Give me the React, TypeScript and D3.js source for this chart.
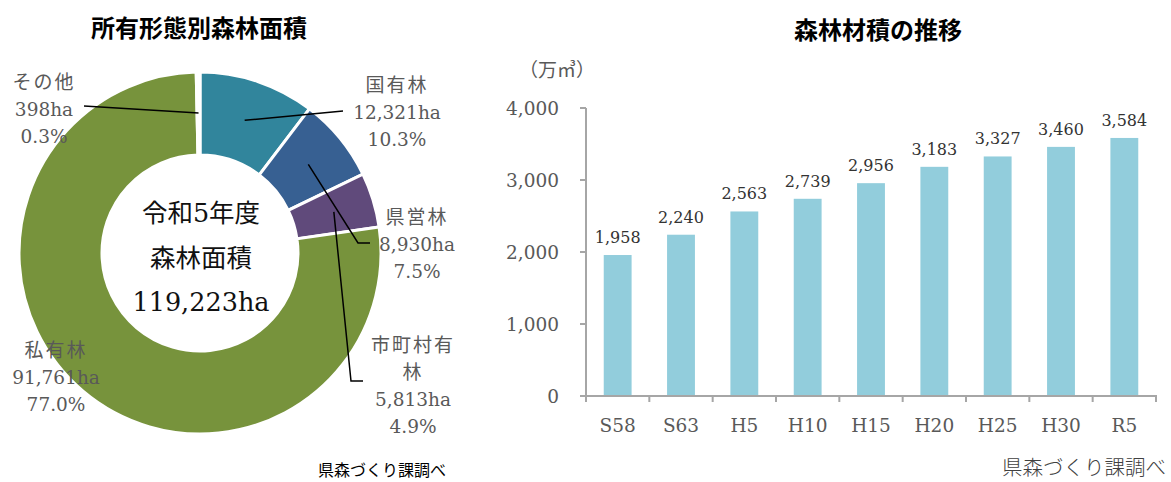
import React from "react";
import * as d3 from "d3";

// ---- Donut data ----
const ownershipNames = ["国有林", "県営林", "市町村有林", "私有林", "その他"];
const ownershipArea = [12321, 8930, 5813, 91761, 398];
const ownershipAreaLabels = ["12,321ha", "8,930ha", "5,813ha", "91,761ha", "398ha"];
const ownershipPctLabels = ["10.3%", "7.5%", "4.9%", "77.0%", "0.3%"];
const ownershipColors = ["#31859C", "#376092", "#604A7B", "#77933C", "#FFFFFF"];
const centerLines = ["令和5年度", "森林面積", "119,223ha"];

// ---- Bar data ----
const periods = ["S58", "S63", "H5", "H10", "H15", "H20", "H25", "H30", "R5"];
const volumes = [1958, 2240, 2563, 2739, 2956, 3183, 3327, 3460, 3584];
const yTicks = [0, 1000, 2000, 3000, 4000];

const SERIF = "'DejaVu Serif', 'Noto Sans CJK JP', serif";
const SANS = "'Noto Sans CJK JP', sans-serif";
const LABEL = "#595959";

export default function App() {
  const cx = 200, cy = 253, rOuter = 181, rInner = 98, rMid = 140;
  const pie = d3.pie<number>().sort(null).value((d) => d);
  const arcs = pie(ownershipArea);
  const arcGen = d3.arc<d3.PieArcDatum<number>>().innerRadius(rInner).outerRadius(rOuter);
  const midPoint = (a: d3.PieArcDatum<number>) => {
    const m = (a.startAngle + a.endAngle) / 2;
    return [cx + rMid * Math.sin(m), cy - rMid * Math.cos(m)];
  };

  // label layout (name lines split for wrapping)
  const labelLayout: { x: number; y: number; names: string[]; leader: number[][] | null }[] = [
    { x: 397, y: 85, names: ["国有林"], leader: [[343, 111]] },
    { x: 417, y: 217, names: ["県営林"], leader: [[358, 243], [370, 243]] },
    { x: 413, y: 345, names: ["市町村有", "林"], leader: [[351, 381], [363, 381]] },
    { x: 56, y: 350, names: ["私有林"], leader: null },
    { x: 44, y: 82, names: ["その他"], leader: [[84, 106]] },
  ];

  const x = d3.scaleBand<string>().domain(periods).range([586, 1156]).paddingInner(0.56).paddingOuter(0.28);
  const y = d3.scaleLinear().domain([0, 4000]).range([396, 108]);
  const step = x.step();
  const boundaries = d3.range(periods.length + 1).map((i) => 586 + i * step);

  return (
    <div style={{ position: "absolute", left: 0, top: 0 }}>
      <svg width={1171} height={482} style={{ display: "block", background: "#fff" }}>
        <text x={199} y={37} textAnchor="middle" fontFamily={SANS} fontWeight={700} fontSize={24} fill="#000">
          所有形態別森林面積
        </text>

        <g transform={`translate(${cx},${cy})`}>
          {arcs.map((a, i) => (
            <path key={i} d={arcGen(a) || ""} fill={ownershipColors[i]} stroke="#fff" strokeWidth={3} />
          ))}
        </g>

        {centerLines.map((t, i) => (
          <text key={i} x={cx + 1} y={213 + i * 44.5} dy="0.36em" textAnchor="middle" fontFamily={SERIF} fontSize={25.5} fill="#111">
            {t}
          </text>
        ))}

        {arcs.map((a, i) => {
          const L = labelLayout[i];
          if (!L.leader) return null;
          const pts = [midPoint(a), ...L.leader];
          return (
            <polyline key={i} points={pts.map((p) => p.join(",")).join(" ")} fill="none" stroke="#000" strokeWidth={1.5} />
          );
        })}

        {labelLayout.map((L, i) => {
          const lines = [...L.names, ownershipAreaLabels[i], ownershipPctLabels[i]];
          return (
            <g key={i}>
              {lines.map((t, j) => {
                const isName = j < L.names.length;
                return (
                  <text
                    key={j}
                    x={L.x}
                    y={L.y + j * 27}
                    dy="0.36em"
                    textAnchor="middle"
                    fontFamily={isName ? SANS : SERIF}
                    fontSize={isName ? 19 : 18.5}
                    letterSpacing={isName ? 2 : 0}
                    fill={LABEL}
                  >
                    {t}
                  </text>
                );
              })}
            </g>
          );
        })}

        <text x={318} y={476} fontFamily={SANS} fontSize={16} fill="#000">
          県森づくり課調べ
        </text>

        <text x={878} y={39} textAnchor="middle" fontFamily={SANS} fontWeight={700} fontSize={24} fill="#000">
          森林材積の推移
        </text>
        <text x={519} y={77} fontFamily={SANS} fontSize={19} fill={LABEL}>
          （万㎥）
        </text>

        {periods.map((p, i) => (
          <rect key={p} x={x(p)} y={y(volumes[i])} width={x.bandwidth()} height={396 - y(volumes[i])} fill="#92CDDC" />
        ))}
        {periods.map((p, i) => (
          <text key={p} x={(x(p) || 0) + x.bandwidth() / 2} y={y(volumes[i]) - 12} textAnchor="middle" fontFamily={SERIF} fontSize={16} fill="#333">
            {d3.format(",")(volumes[i])}
          </text>
        ))}

        <line x1={586} x2={586} y1={y(4000)} y2={y(0)} stroke="#A6A6A6" strokeWidth={2} />
        {yTicks.map((t) => (
          <g key={t}>
            <line x1={580} x2={586} y1={y(t)} y2={y(t)} stroke="#A6A6A6" strokeWidth={2} />
            <text x={559} y={y(t)} dy="0.36em" textAnchor="end" fontFamily={SERIF} fontSize={18.5} fill={LABEL}>
              {d3.format(",")(t)}
            </text>
          </g>
        ))}

        <line x1={585} x2={1157} y1={396} y2={396} stroke="#A6A6A6" strokeWidth={2} />
        {boundaries.map((bx, i) => (
          <line key={i} x1={bx} x2={bx} y1={396} y2={402} stroke="#A6A6A6" strokeWidth={2} />
        ))}
        {periods.map((p) => (
          <text key={p} x={(x(p) || 0) + x.bandwidth() / 2} y={425} dy="0.36em" textAnchor="middle" fontFamily={SERIF} fontSize={18.5} fill={LABEL}>
            {p}
          </text>
        ))}

        <text x={1166} y={475} textAnchor="end" fontFamily={SANS} fontWeight={300} fontSize={20.5} fill="#404040">
          県森づくり課調べ
        </text>
      </svg>
    </div>
  );
}
